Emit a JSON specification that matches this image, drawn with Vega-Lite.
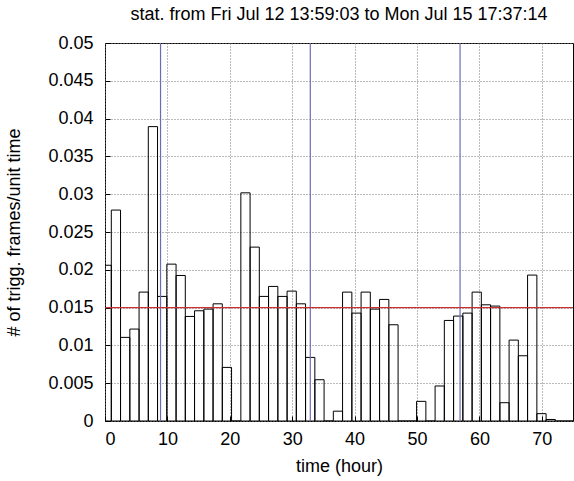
{
  "$schema": "https://vega.github.io/schema/vega-lite/v6.json",
  "autosize": "none",
  "width": 468,
  "height": 378,
  "padding": {"left": 105, "top": 43, "right": 1, "bottom": 60},
  "background": "white",
  "config": {
    "font": "Liberation Sans",
    "view": {"stroke": "black", "strokeWidth": 1},
    "axis": {
      "domain": false,
      "gridColor": "#777777",
      "gridDash": [1, 2],
      "gridWidth": 1,
      "gridOpacity": 1,
      "tickColor": "black",
      "tickSize": -5,
      "labelOverlap": false,
      "labelFont": "Liberation Sans",
      "labelFontSize": 18,
      "labelColor": "black",
      "titleFont": "Liberation Sans",
      "titleFontSize": 18,
      "titleFontWeight": "normal",
      "titleColor": "black"
    }
  },
  "title": {
    "text": "stat. from Fri Jul 12 13:59:03 to Mon Jul 15 17:37:14",
    "font": "Liberation Sans",
    "fontSize": 18,
    "fontWeight": "normal",
    "color": "black",
    "anchor": "middle",
    "offset": 10
  },
  "datasets": {
    "bins": [
      {"t0": -0.47, "t1": 1.01, "rate": 0.0206},
      {"t0": 1.01, "t1": 2.49, "rate": 0.0279},
      {"t0": 2.49, "t1": 3.98, "rate": 0.01106},
      {"t0": 3.98, "t1": 5.46, "rate": 0.01216},
      {"t0": 5.46, "t1": 6.94, "rate": 0.01705},
      {"t0": 6.94, "t1": 8.42, "rate": 0.03894},
      {"t0": 8.42, "t1": 9.91, "rate": 0.01648},
      {"t0": 9.91, "t1": 11.39, "rate": 0.02075},
      {"t0": 11.39, "t1": 12.87, "rate": 0.01925},
      {"t0": 12.87, "t1": 14.35, "rate": 0.01383},
      {"t0": 14.35, "t1": 15.84, "rate": 0.01458},
      {"t0": 15.84, "t1": 17.32, "rate": 0.0148},
      {"t0": 17.32, "t1": 18.8, "rate": 0.0155},
      {"t0": 18.8, "t1": 20.28, "rate": 0.00709},
      {"t0": 20.28, "t1": 21.77, "rate": 0},
      {"t0": 21.77, "t1": 23.25, "rate": 0.03018},
      {"t0": 23.25, "t1": 24.73, "rate": 0.023},
      {"t0": 24.73, "t1": 26.21, "rate": 0.01648},
      {"t0": 26.21, "t1": 27.7, "rate": 0.0178},
      {"t0": 27.7, "t1": 29.18, "rate": 0.01648},
      {"t0": 29.18, "t1": 30.66, "rate": 0.01718},
      {"t0": 30.66, "t1": 32.14, "rate": 0.0155},
      {"t0": 32.14, "t1": 33.63, "rate": 0.00841},
      {"t0": 33.63, "t1": 35.11, "rate": 0.00546},
      {"t0": 35.11, "t1": 36.59, "rate": 0},
      {"t0": 36.59, "t1": 38.07, "rate": 0.0013},
      {"t0": 38.07, "t1": 39.56, "rate": 0.01705},
      {"t0": 39.56, "t1": 41.04, "rate": 0.01427},
      {"t0": 41.04, "t1": 42.52, "rate": 0.01705},
      {"t0": 42.52, "t1": 44.0, "rate": 0.0148},
      {"t0": 44.0, "t1": 45.49, "rate": 0.01608},
      {"t0": 45.49, "t1": 46.97, "rate": 0.01273},
      {"t0": 46.97, "t1": 48.45, "rate": 0},
      {"t0": 48.45, "t1": 49.93, "rate": 0},
      {"t0": 49.93, "t1": 51.42, "rate": 0.0026},
      {"t0": 51.42, "t1": 52.9, "rate": 0},
      {"t0": 52.9, "t1": 54.38, "rate": 0.00463},
      {"t0": 54.38, "t1": 55.86, "rate": 0.0133},
      {"t0": 55.86, "t1": 57.35, "rate": 0.01388},
      {"t0": 57.35, "t1": 58.83, "rate": 0.01427},
      {"t0": 58.83, "t1": 60.31, "rate": 0.01705},
      {"t0": 60.31, "t1": 61.79, "rate": 0.01537},
      {"t0": 61.79, "t1": 63.28, "rate": 0.0152},
      {"t0": 63.28, "t1": 64.76, "rate": 0.00242},
      {"t0": 64.76, "t1": 66.24, "rate": 0.0107},
      {"t0": 66.24, "t1": 67.72, "rate": 0.00863},
      {"t0": 67.72, "t1": 69.21, "rate": 0.0193},
      {"t0": 69.21, "t1": 70.69, "rate": 0.00097},
      {"t0": 70.69, "t1": 72.17, "rate": 0.0002},
      {"t0": 72.17, "t1": 73.65, "rate": 0},
      {"t0": 73.65, "t1": 75.13, "rate": 0}
    ],
    "days": [{"t0": 8.9}, {"t0": 32.9}, {"t0": 56.9}],
    "thresh": [{"rate": 0.015}]
  },
  "layer": [
    {
      "data": {"name": "bins"},
      "mark": {"type": "rect", "fill": null, "fillOpacity": 0, "stroke": "black", "strokeWidth": 1, "clip": true},
      "encoding": {
        "x": {
          "field": "t0", "type": "quantitative",
          "scale": {"domain": [0, 75], "nice": false, "zero": false},
          "axis": {"values": [0, 10, 20, 30, 40, 50, 60, 70], "title": "time (hour)", "grid": true, "labelPadding": 14, "titlePadding": 9}
        },
        "x2": {"field": "t1"},
        "y": {
          "field": "rate", "type": "quantitative",
          "scale": {"domain": [0, 0.05], "nice": false},
          "axis": {
            "values": [0, 0.005, 0.01, 0.015, 0.02, 0.025, 0.03, 0.035, 0.04, 0.045, 0.05],
            "labelExpr": "datum.value == 0 ? '0' : format(datum.value, '.3~f')",
            "title": "# of trigg. frames/unit time",
            "grid": true,
            "labelPadding": 17,
            "titlePadding": 24
          }
        },
        "y2": {"datum": 0}
      }
    },
    {
      "data": {"name": "days"},
      "mark": {"type": "rule", "color": "#6b6bb5", "strokeWidth": 1.2},
      "encoding": {
        "x": {
          "field": "t0", "type": "quantitative",
          "scale": {"domain": [0, 75], "nice": false, "zero": false},
          "axis": {"values": [0, 10, 20, 30, 40, 50, 60, 70], "title": "time (hour)", "grid": true, "labelPadding": 14, "titlePadding": 9}
        }
      }
    },
    {
      "data": {"name": "thresh"},
      "mark": {"type": "rule", "color": "#c83232", "strokeWidth": 1.2},
      "encoding": {
        "y": {
          "field": "rate", "type": "quantitative",
          "scale": {"domain": [0, 0.05], "nice": false},
          "axis": {
            "values": [0, 0.005, 0.01, 0.015, 0.02, 0.025, 0.03, 0.035, 0.04, 0.045, 0.05],
            "labelExpr": "datum.value == 0 ? '0' : format(datum.value, '.3~f')",
            "title": "# of trigg. frames/unit time",
            "grid": true,
            "labelPadding": 17,
            "titlePadding": 24
          }
        }
      }
    }
  ]
}
